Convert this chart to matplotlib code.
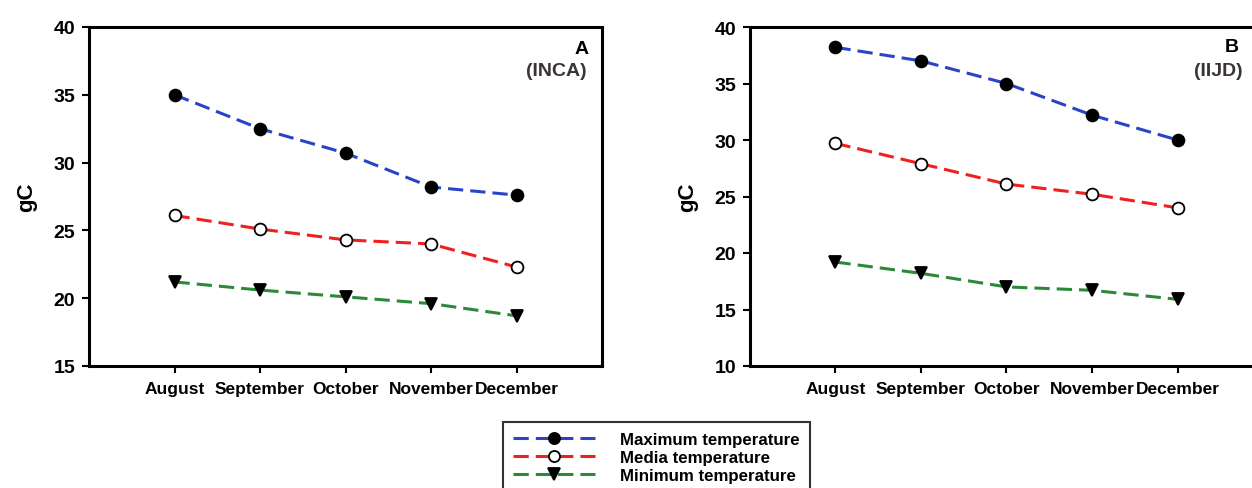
import matplotlib
matplotlib.use('Agg')
from matplotlib import pyplot as plt
from matplotlib.lines import Line2D

plt.rcParams['font.family'] = ['Liberation Sans', 'DejaVu Sans']
plt.rcParams['font.weight'] = 'bold'

months = ['August', 'September', 'October', 'November', 'December']

# panel A (INCA)
inca_max = [35.0, 32.5, 30.7, 28.2, 27.6]
inca_med = [26.1, 25.1, 24.3, 24.0, 22.3]
inca_min = [21.2, 20.6, 20.1, 19.6, 18.7]

# panel B (IIJD)
iijd_max = [38.2, 37.0, 35.0, 32.2, 30.0]
iijd_med = [29.7, 27.9, 26.1, 25.2, 24.0]
iijd_min = [19.2, 18.2, 17.0, 16.7, 15.9]

series_names = ['Maximum temperature', 'Media temperature', 'Minimum temperature']
line_colors = ['#2a44c8', '#f02020', '#2a8a3a']
markers = ['o', 'o', 'v']
marker_faces = ['black', 'white', 'black']

W, H = 1252, 489
fig = plt.figure(figsize=(W / 100, H / 100), dpi=100)


def panel(box, series, ylim, yticks):
    # box = (left, top, right, bottom) in pixels from the top-left corner
    ax = fig.add_axes([box[0] / W, 1 - box[3] / H, (box[2] - box[0]) / W, (box[3] - box[1]) / H])
    x = range(len(months))
    for vals, c, m, fc in zip(series, line_colors, markers, marker_faces):
        ax.plot(x, vals, color=c, lw=2.2, dashes=(5, 2.3), marker=m, markersize=8.5,
                markerfacecolor=fc, markeredgecolor='black', markeredgewidth=1.3, zorder=3)
    ax.set_xlim(-1, 5)
    ax.set_ylim(*ylim)
    ax.set_yticks(yticks)
    ax.set_xticks(list(x))
    ax.set_xticklabels(months, fontsize=12.5, fontweight='bold')
    ax.tick_params(axis='y', labelsize=14, width=1.5, length=5, direction='out', pad=5)
    ax.tick_params(axis='x', width=1.5, length=5, direction='out', pad=6)
    for s in ax.spines.values():
        s.set_linewidth(2.2)
    ax.set_ylabel('gC', fontsize=16, fontweight='bold', labelpad=12)
    return ax


def pixel_text(px, py, s, size, color='black'):
    fig.text(px / W, 1 - py / H, s, ha='right', va='center', fontsize=size,
             fontweight='bold', color=color)


axA = panel((89, 28, 602, 367), [inca_max, inca_med, inca_min], (15, 40), [15, 20, 25, 30, 35, 40])
pixel_text(589, 50, 'A', 14)
pixel_text(587, 72, '(INCA)', 14, '#3a3434')

axB = panel((750, 28, 1263, 367), [iijd_max, iijd_med, iijd_min], (10, 40), [10, 15, 20, 25, 30, 35, 40])
pixel_text(1239, 48, 'B', 14)
pixel_text(1243, 72, '(IIJD)', 14, '#3a3434')

handles = [Line2D([], [], color=c, lw=2.2, dashes=(5, 2.3), marker=m, markersize=8,
                  markerfacecolor=fc, markeredgecolor='black', markeredgewidth=1.3)
           for c, m, fc in zip(line_colors, markers, marker_faces)]
leg = fig.legend(handles, series_names, loc='upper left', bbox_to_anchor=(503 / W, 1 - 423 / H),
                 frameon=True, fancybox=False, edgecolor='black', handlelength=4.8,
                 handletextpad=1.5, labelspacing=0.18, borderpad=0.6, borderaxespad=0,
                 prop={'size': 12.2, 'weight': 'bold'})
leg.get_frame().set_linewidth(1.5)

fig.savefig('out.png', dpi=100)
